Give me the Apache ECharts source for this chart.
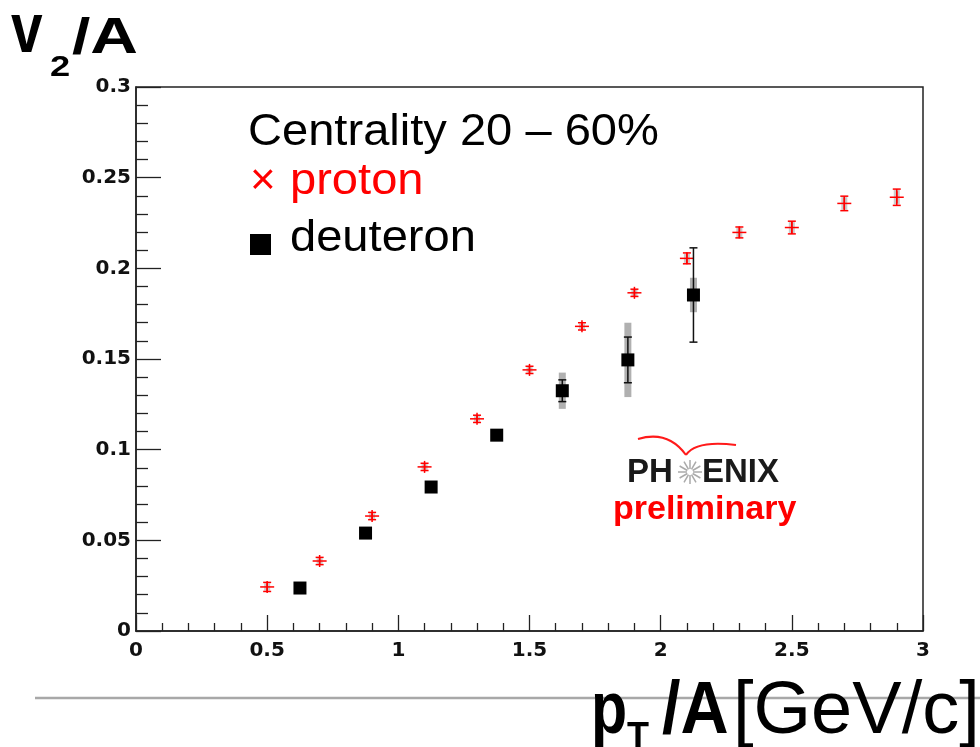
<!DOCTYPE html>
<html>
<head>
<meta charset="utf-8">
<script src="https://cdn.jsdelivr.net/npm/echarts@6/dist/echarts.min.js"></script>
<style>html,body{margin:0;padding:0;background:#fff}#c{width:980px;height:747px}</style>
</head>
<body>
<div id="c"></div>
<script>
// ---- data ----
const protonX    = [0.5, 0.7, 0.9, 1.1, 1.3, 1.5, 1.7, 1.9, 2.1, 2.3, 2.5, 2.7, 2.9];
const protonY    = [0.0243, 0.0386, 0.0634, 0.0905, 0.117, 0.144, 0.168, 0.1865, 0.2055, 0.2198, 0.2225, 0.2358, 0.2392];
const protonStat = [0.0025, 0.002, 0.002, 0.002, 0.002, 0.002, 0.002, 0.002, 0.003, 0.003, 0.0035, 0.004, 0.0045];
const protonSys  = [0.002, 0.0015, 0.0015, 0.0015, 0.0015, 0.0015, 0.0015, 0.002, 0.0025, 0.0025, 0.003, 0.0035, 0.004];
const deutX      = [0.625, 0.875, 1.125, 1.375, 1.625, 1.875, 2.125];
const deutY      = [0.0237, 0.054, 0.0794, 0.108, 0.1325, 0.1495, 0.1853];
const deutStat   = [0.001, 0.001, 0.001, 0.002, 0.006, 0.0126, 0.026];
const deutSys    = [0, 0, 0, 0.002, 0.010, 0.0205, 0.0095];
const xTicks = {min: 0, max: 3, interval: 0.5};
const yTicks = {min: 0, max: 0.3, interval: 0.05};

const chart = echarts.init(document.getElementById('c'), null, {renderer: 'canvas'});

function protonErr(params, api) {
  const x = api.value(0), y = api.value(1), e = api.value(2), s = api.value(3);
  const c = api.coord([x, y]);
  const t = api.coord([x, y + e])[1], b = api.coord([x, y - e])[1];
  const st = api.coord([x, y + s])[1], sb = api.coord([x, y - s])[1];
  const red = {stroke: '#ff0000', lineWidth: 1.5};
  return {type: 'group', children: [
    {type: 'rect', shape: {x: c[0] - 3, y: st, width: 6, height: sb - st}, style: {fill: 'rgba(140,140,140,0.45)'}},
    {type: 'line', shape: {x1: c[0], y1: t, x2: c[0], y2: b}, style: red},
    {type: 'line', shape: {x1: c[0] - 4, y1: t, x2: c[0] + 4, y2: t}, style: red},
    {type: 'line', shape: {x1: c[0] - 4, y1: b, x2: c[0] + 4, y2: b}, style: red},
    {type: 'line', shape: {x1: c[0] - 7, y1: c[1], x2: c[0] + 7, y2: c[1]}, style: red},
    {type: 'line', shape: {x1: c[0], y1: c[1] - 6, x2: c[0], y2: c[1] + 6}, style: red}
  ]};
}
function deutErr(params, api) {
  const x = api.value(0), y = api.value(1), e = api.value(2), s = api.value(3);
  const c = api.coord([x, y]);
  const t = api.coord([x, y + e])[1], b = api.coord([x, y - e])[1];
  const st = api.coord([x, y + s])[1], sb = api.coord([x, y - s])[1];
  const blk = {stroke: '#111', lineWidth: 1.5};
  const ch = [];
  if (s > 0) ch.push({type: 'rect', shape: {x: c[0] - 3.5, y: st, width: 7, height: sb - st}, style: {fill: '#b0b0b0'}});
  ch.push({type: 'line', shape: {x1: c[0], y1: t, x2: c[0], y2: b}, style: blk});
  ch.push({type: 'line', shape: {x1: c[0] - 4, y1: t, x2: c[0] + 4, y2: t}, style: blk});
  ch.push({type: 'line', shape: {x1: c[0] - 4, y1: b, x2: c[0] + 4, y2: b}, style: blk});
  return {type: 'group', children: ch};
}

const SANS = '"Liberation Sans", Arial, sans-serif';
function txt(str, left, baseline, size, o) {
  o = o || {};
  return {
    type: 'text', x: left, y: baseline - 0.3465 * size, scaleX: o.sx || 1, z: 10,
    style: {text: str, fontFamily: SANS, fontSize: size, fontWeight: o.bold ? 'bold' : 'normal',
            fill: o.color || '#000', align: 'left', verticalAlign: 'middle'}
  };
}

const star = [];
for (let k = 0; k < 12; k++) {
  const a = k * Math.PI / 6;
  star.push({type: 'line', z: 10, shape: {x1: 690 + 3 * Math.cos(a), y1: 472 + 3 * Math.sin(a), x2: 690 + 12 * Math.cos(a), y2: 472 + 12 * Math.sin(a)},
             style: {stroke: '#aaa', lineWidth: 1.5}});
}

const axisLine = {lineStyle: {color: '#222', width: 1.5}};
const labelStyle = {color: '#111', fontFamily: '"DejaVu Sans", sans-serif', fontWeight: 'bold', fontSize: 20};

chart.setOption({
  animation: false,
  backgroundColor: '#fff',
  grid: {left: 136, right: 57, top: 87, bottom: 116, show: true, borderColor: '#222', borderWidth: 1.5, containLabel: false},
  xAxis: {
    type: 'value', min: xTicks.min, max: xTicks.max, interval: xTicks.interval,
    axisLine: axisLine,
    axisTick: {show: true, inside: true, length: 16, lineStyle: {color: '#222', width: 1.3}},
    minorTick: {show: true, splitNumber: 5, length: 8, lineStyle: {color: '#222', width: 1.3}},
    splitLine: {show: false},
    axisLabel: Object.assign({margin: 10}, labelStyle)
  },
  yAxis: {
    type: 'value', min: yTicks.min, max: yTicks.max, interval: yTicks.interval,
    axisLine: axisLine,
    axisTick: {show: true, inside: true, length: 25, lineStyle: {color: '#222', width: 1.3}},
    minorTick: {show: true, splitNumber: 5, length: 12, lineStyle: {color: '#222', width: 1.3}},
    splitLine: {show: false},
    axisLabel: Object.assign({margin: 5}, labelStyle)
  },
  series: [
    {type: 'custom', name: 'proton', renderItem: protonErr, encode: {x: 0, y: 1}, z: 3,
     data: protonX.map((x, i) => [x, protonY[i], protonStat[i], protonSys[i]])},
    {type: 'custom', name: 'deuteron err', renderItem: deutErr, encode: {x: 0, y: 1}, z: 4,
     data: deutX.map((x, i) => [x, deutY[i], deutStat[i], deutSys[i]])},
    {type: 'scatter', name: 'deuteron', symbol: 'rect', symbolSize: 13, z: 5,
     itemStyle: {color: '#000', opacity: 1}, data: deutX.map((x, i) => [x, deutY[i]])}
  ],
  graphic: [
    // title
    txt('v', 11, 57, 71, {bold: true, sx: 0.8}),
    txt('2', 50, 78, 29, {bold: true, sx: 1.25}),
    txt('/A', 72, 57, 50, {bold: true, sx: 1.32}),
    // bottom line + axis title
    {type: 'line', z: 1, shape: {x1: 35, y1: 698, x2: 980, y2: 698}, style: {stroke: '#a8a8a8', lineWidth: 2.5}},
    txt('p', 591, 738, 74, {bold: true, sx: 0.8}),
    txt('T', 627, 751, 36, {bold: true}),
    txt('/A', 662, 738, 74, {bold: true, sx: 0.9}),
    txt('[GeV/c]', 733, 738, 74),
    // legend
    txt('Centrality 20 \u2013 60%', 248, 148, 44, {sx: 1.07}),
    txt('\u00d7', 250, 197, 44, {color: '#ff0000'}),
    txt('proton', 290, 197, 44, {sx: 1.07, color: '#ff0000'}),
    {type: 'rect', z: 10, shape: {x: 250, y: 234, width: 21, height: 21}, style: {fill: '#000'}},
    txt('deuteron', 290, 254, 44, {sx: 1.07}),
    // PHENIX preliminary
    {type: 'bezierCurve', z: 10, shape: {x1: 638, y1: 439, x2: 686, y2: 455, cpx1: 668, cpy1: 430}, style: {stroke: '#ff1a1a', lineWidth: 2, fill: null}},
    {type: 'bezierCurve', z: 10, shape: {x1: 686, y1: 455, x2: 736, y2: 445, cpx1: 696, cpy1: 440}, style: {stroke: '#ff1a1a', lineWidth: 2, fill: null}},
    txt('PH', 627, 484, 33, {bold: true, color: '#1a1a1a'}),
    txt('ENIX', 702, 484, 33, {bold: true, color: '#1a1a1a'}),
    ...star,
    txt('preliminary', 613, 521, 34, {bold: true, color: '#ff0000'})
  ]
});
</script>
</body>
</html>
